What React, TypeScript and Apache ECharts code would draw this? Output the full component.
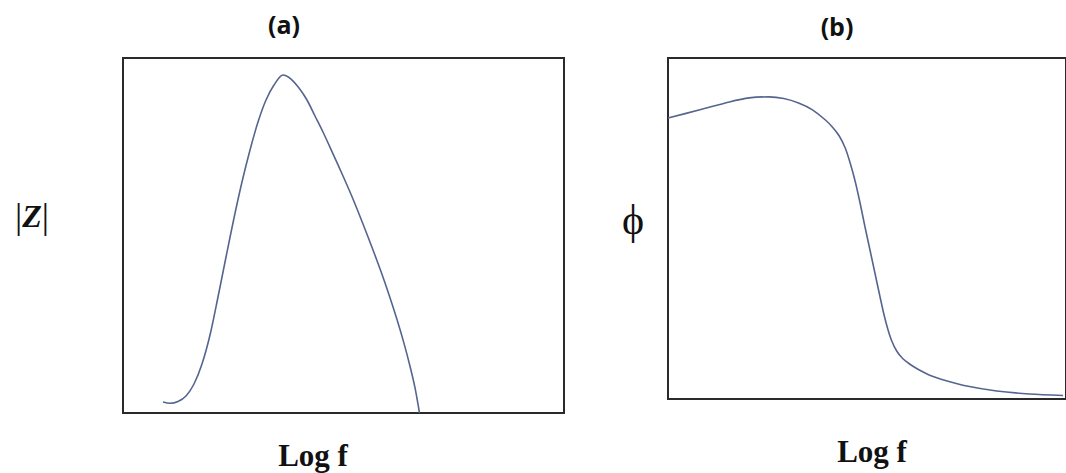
import React, { useEffect, useRef } from "react";
import * as echarts from "echarts";

// Panel (a): |Z| vs Log f (arbitrary units 0-100)
const magX = [9.07, 10.66, 12.47, 14.29, 16.10, 17.91, 19.73, 21.54, 23.36, 25.17, 26.98, 28.80, 30.61, 32.43, 34.24, 36.28, 38.10, 39.91, 41.72, 43.54, 45.35, 47.62, 49.89, 52.15, 54.42, 56.69, 58.50, 60.32, 62.13, 63.72, 65.08, 66.21, 67.23];
const magY = [3.1, 2.73, 3.24, 4.79, 8.17, 13.80, 21.97, 32.68, 43.94, 54.93, 65.07, 74.08, 81.97, 88.17, 92.39, 95.21, 94.08, 91.55, 88.17, 83.66, 79.15, 73.0, 66.76, 60.28, 53.24, 45.92, 39.83, 33.30, 26.31, 19.61, 13.18, 7.13, 0];

// Panel (b): phase vs Log f (arbitrary units 0-100)
const phaseX = [0, 8.0, 15.4, 20.4, 25.4, 29.1, 32.8, 36.3, 39.55, 41.29, 43.03, 44.53, 45.77, 47.01, 48.26, 49.50, 50.75, 51.99, 53.23, 54.23, 55.22, 56.22, 57.46, 58.96, 60.70, 62.69, 65.92, 70.15, 74.38, 82.59, 90.80, 99.25];
const phaseY = [82.4, 84.8, 87.1, 88.3, 88.6, 88.1, 86.8, 84.8, 81.82, 79.77, 77.13, 73.61, 69.21, 63.93, 57.48, 50.44, 43.70, 36.95, 30.21, 24.93, 20.53, 17.01, 14.08, 11.88, 10.26, 8.80, 6.89, 5.28, 3.96, 2.35, 1.47, 1.03];

const panelTitles = ["(a)", "(b)"];
const xAxisLabel = "Log f";

export default function App() {
  const ref = useRef<HTMLDivElement>(null);
  useEffect(() => {
    if (!ref.current) return;
    const chart = echarts.init(ref.current, undefined, { renderer: "svg" });
    const hiddenAxis = {
      type: "value" as const,
      min: 0,
      max: 100,
      axisLine: { show: false },
      axisTick: { show: false },
      axisLabel: { show: false },
      splitLine: { show: false },
    };
    const lineColor = "#56658f";
    const titleStyle = { fontSize: 25, fontWeight: "bold", fontFamily: "Open Sans", fill: "#111", align: "center", verticalAlign: "middle" };
    const xNameStyle = { fontSize: 31, fontWeight: "bold", fontFamily: "Liberation Serif", fill: "#111", align: "center", verticalAlign: "middle" };
    chart.setOption({
      animation: false,
      backgroundColor: "#ffffff",
      grid: [
        { left: 123, top: 58, width: 441, height: 355, show: true, borderColor: "#2a2a2a", borderWidth: 2, backgroundColor: "transparent" },
        { left: 668, top: 58, width: 402, height: 341, show: true, borderColor: "#2a2a2a", borderWidth: 2, backgroundColor: "transparent" },
      ],
      xAxis: [
        { ...hiddenAxis, gridIndex: 0 },
        { ...hiddenAxis, gridIndex: 1 },
      ],
      yAxis: [
        { ...hiddenAxis, gridIndex: 0 },
        { ...hiddenAxis, gridIndex: 1 },
      ],
      series: [
        {
          type: "line",
          xAxisIndex: 0,
          yAxisIndex: 0,
          data: magX.map((x, i) => [x, magY[i]]),
          smooth: 0.3,
          showSymbol: false,
          lineStyle: { color: lineColor, width: 1.6 },
        },
        {
          type: "line",
          xAxisIndex: 1,
          yAxisIndex: 1,
          data: phaseX.map((x, i) => [x, phaseY[i]]),
          smooth: 0.3,
          showSymbol: false,
          lineStyle: { color: lineColor, width: 1.6 },
        },
      ],
      graphic: [
        { type: "text", x: 284, y: 24, style: { text: panelTitles[0], ...titleStyle } },
        { type: "text", x: 837, y: 26, style: { text: panelTitles[1], ...titleStyle } },
        { type: "text", x: 313, y: 455, style: { text: xAxisLabel, ...xNameStyle } },
        { type: "text", x: 872, y: 451, style: { text: xAxisLabel, ...xNameStyle } },
        {
          type: "text",
          x: 32,
          y: 216,
          style: {
            text: "{b||}{z|Z}{b||}",
            align: "center",
            verticalAlign: "middle",
            rich: {
              b: { fontSize: 36, fontFamily: "Liberation Serif", fill: "#111" },
              z: { fontSize: 32, fontWeight: "bold", fontStyle: "italic", fontFamily: "Liberation Serif", fill: "#111" },
            },
          },
        },
        {
          type: "text",
          x: 633,
          y: 220,
          style: { text: "\u03D5", fontSize: 42, fontFamily: "Liberation Serif", fill: "#111", align: "center", verticalAlign: "middle" },
        },
      ],
    });
    return () => chart.dispose();
  }, []);
  return <div ref={ref} style={{ position: "absolute", left: 0, top: 0, width: 1066, height: 473 }} />;
}
